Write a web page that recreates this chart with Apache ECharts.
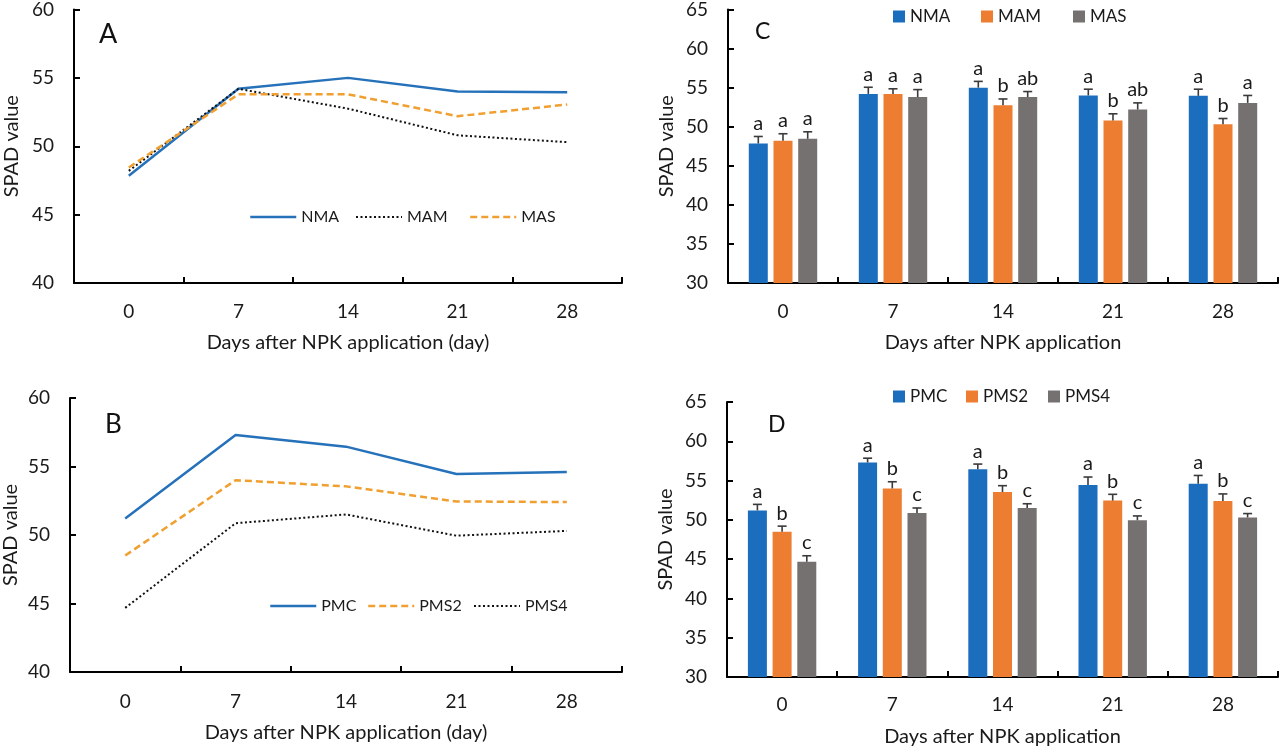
<!DOCTYPE html>
<html>
<head>
<meta charset="utf-8">
<script src="https://cdn.jsdelivr.net/npm/echarts@6/dist/echarts.min.js"></script>
<style>
html,body{margin:0;padding:0;background:#fff;}
#c{width:1280px;height:748px;}
</style>
</head>
<body>
<div id="c"></div>
<script>
// ---- data ----
const days = ['0', '7', '14', '21', '28'];
// Panel A / C
const nma = [47.85, 54.2, 55.0, 54.0, 53.95];
const mam = [48.2, 54.2, 52.75, 50.8, 50.3];
const mas = [48.45, 53.8, 53.8, 52.2, 53.05];
const nmaErr = [0.9, 0.85, 0.8, 0.8, 0.85];
const mamErr = [0.9, 0.65, 0.8, 0.85, 0.75];
const masErr = [0.9, 0.95, 0.7, 0.85, 0.95];
const nmaLetters = ['a', 'a', 'a', 'a', 'a'];
const mamLetters = ['a', 'a', 'b', 'b', 'b'];
const masLetters = ['a', 'a', 'ab', 'ab', 'a'];
// Panel B / D
const pmc = [51.2, 57.3, 56.45, 54.45, 54.6];
const pms2 = [48.5, 54.0, 53.55, 52.45, 52.4];
const pms4 = [44.68, 50.86, 51.5, 49.95, 50.3];
const pmcErr = [0.77, 0.55, 0.65, 1.0, 1.05];
const pms2Err = [0.7, 0.85, 0.8, 0.8, 0.9];
const pms4Err = [0.75, 0.65, 0.55, 0.55, 0.5];
const pmcLetters = ['a', 'a', 'a', 'a', 'a'];
const pms2Letters = ['b', 'b', 'b', 'b', 'b'];
const pms4Letters = ['c', 'c', 'c', 'c', 'c'];
// y tick ranges
const lineYMin = 40, lineYMax = 60, lineYStep = 5;
const barYMin = 30, barYMax = 65, barYStep = 5;

// ---- styles ----
const FONT = 'Lato';
const TXT = '#1a1a1a';
const BLUE_L = '#2571BA', ORANGE_L = '#F0A030', BLACK_L = '#111';
const BLUE = '#1B6EBE', ORANGE = '#ED7D31', GRAY = '#767171';
const BAR_W = 19, BAR_STEP = 24.7;

const chart = echarts.init(document.getElementById('c'));

function xAx(gi, nameGap, labelMargin) {
  return {
    type: 'category', gridIndex: gi, data: days, boundaryGap: true,
    name: gi < 2 ? 'Days after NPK application (day)' : 'Days after NPK application',
    nameLocation: 'middle', nameGap: nameGap,
    nameTextStyle: { fontFamily: FONT, fontSize: 20, color: TXT },
    axisLine: { lineStyle: { color: '#000', width: 2 } },
    axisTick: { show: true, inside: true, length: 6, lineStyle: { color: '#000', width: 2 } },
    axisLabel: { fontFamily: FONT, fontSize: 19, color: TXT, margin: labelMargin },
    splitLine: { show: false }
  };
}
function yAx(gi, min, max, step, nameGap) {
  return {
    type: 'value', gridIndex: gi, min: min, max: max, interval: step,
    name: 'SPAD value', nameLocation: 'middle', nameGap: nameGap,
    nameTextStyle: { fontFamily: FONT, fontSize: 20, color: TXT },
    axisLine: { show: true, lineStyle: { color: '#000', width: 2 } },
    axisTick: { show: true, inside: true, length: 6, lineStyle: { color: '#000', width: 2 } },
    axisLabel: { fontFamily: FONT, fontSize: 19, color: TXT, margin: 20 },
    splitLine: { show: false }
  };
}
function lineS(name, gi, data, color, width, type) {
  return {
    type: 'line', name: name, xAxisIndex: gi, yAxisIndex: gi, data: data,
    symbol: 'none', showSymbol: false, silent: true,
    lineStyle: { color: color, width: width, type: type },
    itemStyle: { color: color }
  };
}
function barS(name, gi, data, color) {
  return {
    type: 'bar', name: name, xAxisIndex: gi, yAxisIndex: gi, data: data,
    barWidth: BAR_W, barGap: '30%', itemStyle: { color: color }, silent: true
  };
}
function errS(gi, means, errs, letters, offset) {
  return {
    type: 'custom', xAxisIndex: gi, yAxisIndex: gi, z: 10, silent: true,
    data: means.map((m, i) => [i, m, errs[i]]),
    renderItem: function (params, api) {
      const i = params.dataIndex;
      const base = api.coord([api.value(0), api.value(1)]);
      const top = api.coord([api.value(0), api.value(1) + api.value(2)]);
      const x = top[0] + offset;
      return {
        type: 'group', children: [
          { type: 'line', shape: { x1: x, y1: base[1], x2: x, y2: top[1] }, style: { stroke: '#3a3a3a', lineWidth: 1.6 } },
          { type: 'line', shape: { x1: x - 4.5, y1: top[1], x2: x + 4.5, y2: top[1] }, style: { stroke: '#3a3a3a', lineWidth: 1.6 } },
          { type: 'text', x: x, y: top[1] - 3, style: { text: letters[i], textAlign: 'center', textVerticalAlign: 'bottom', font: '20px ' + FONT, fill: TXT } }
        ]
      };
    }
  };
}
function lineLegend(name, left, top, width) {
  return {
    data: [name], left: left, top: top, padding: 0, itemWidth: 46, itemHeight: 14, itemGap: 0,
    itemStyle: { opacity: 0 }, lineStyle: { width: width },
    selectedMode: false, textStyle: { fontFamily: FONT, fontSize: 16, color: TXT }
  };
}
function boxLegend(name, left, top) {
  return {
    data: [{ name: name, icon: 'rect' }], left: left, top: top, padding: 0, itemWidth: 12, itemHeight: 12, itemGap: 0,
    selectedMode: false, textStyle: { fontFamily: FONT, fontSize: 17, color: TXT }
  };
}
function panelLetter(t, x, y, size) {
  return { type: 'text', left: x, top: y, style: { text: t, font: size + 'px ' + FONT, fill: '#111' } };
}

const option = {
  animation: false,
  grid: [
    { left: 74, top: 7, width: 548, height: 276 },
    { left: 70, top: 398, width: 552, height: 274 },
    { left: 728, top: 7, width: 550, height: 276 },
    { left: 727, top: 402, width: 551, height: 275 }
  ],
  xAxis: [xAx(0, 50, 19), xAx(1, 51, 20), xAx(2, 50, 19), xAx(3, 50, 18)],
  yAxis: [
    yAx(0, lineYMin, lineYMax, lineYStep, 52),
    yAx(1, lineYMin, lineYMax, lineYStep, 49),
    yAx(2, barYMin, barYMax, barYStep, 51),
    yAx(3, barYMin, barYMax, barYStep, 51)
  ],
  legend: [
    lineLegend('NMA', 249, 209, 2.5), lineLegend('MAM', 355, 209, 2), lineLegend('MAS', 469, 209, 2.5),
    lineLegend('PMC', 269, 598, 2.5), lineLegend('PMS2', 367, 598, 2.5), lineLegend('PMS4', 473, 598, 2),
    boxLegend('NMA ', 893, 8), boxLegend('MAM ', 981, 8), boxLegend('MAS ', 1073, 8),
    boxLegend('PMC ', 893, 388), boxLegend('PMS2 ', 966, 388), boxLegend('PMS4 ', 1048, 388)
  ],
  graphic: [
    panelLetter('A', 99, 21, 27),
    panelLetter('B', 105, 412, 26),
    panelLetter('C', 755, 20, 23),
    panelLetter('D', 768, 413, 23)
  ],
  series: [
    lineS('NMA', 0, nma, BLUE_L, 2.5, 'solid'),
    lineS('MAM', 0, mam, BLACK_L, 2, [2, 2.5]),
    lineS('MAS', 0, mas, ORANGE_L, 2.5, [7, 4]),
    lineS('PMC', 1, pmc, BLUE_L, 2.5, 'solid'),
    lineS('PMS2', 1, pms2, ORANGE_L, 2.5, [7, 4]),
    lineS('PMS4', 1, pms4, BLACK_L, 2, [2, 2.5]),
    barS('NMA ', 2, nma, BLUE), barS('MAM ', 2, mam, ORANGE), barS('MAS ', 2, mas, GRAY),
    errS(2, nma, nmaErr, nmaLetters, -BAR_STEP), errS(2, mam, mamErr, mamLetters, 0), errS(2, mas, masErr, masLetters, BAR_STEP),
    barS('PMC ', 3, pmc, BLUE), barS('PMS2 ', 3, pms2, ORANGE), barS('PMS4 ', 3, pms4, GRAY),
    errS(3, pmc, pmcErr, pmcLetters, -BAR_STEP), errS(3, pms2, pms2Err, pms2Letters, 0), errS(3, pms4, pms4Err, pms4Letters, BAR_STEP)
  ]
};
chart.setOption(option);
</script>
</body>
</html>
